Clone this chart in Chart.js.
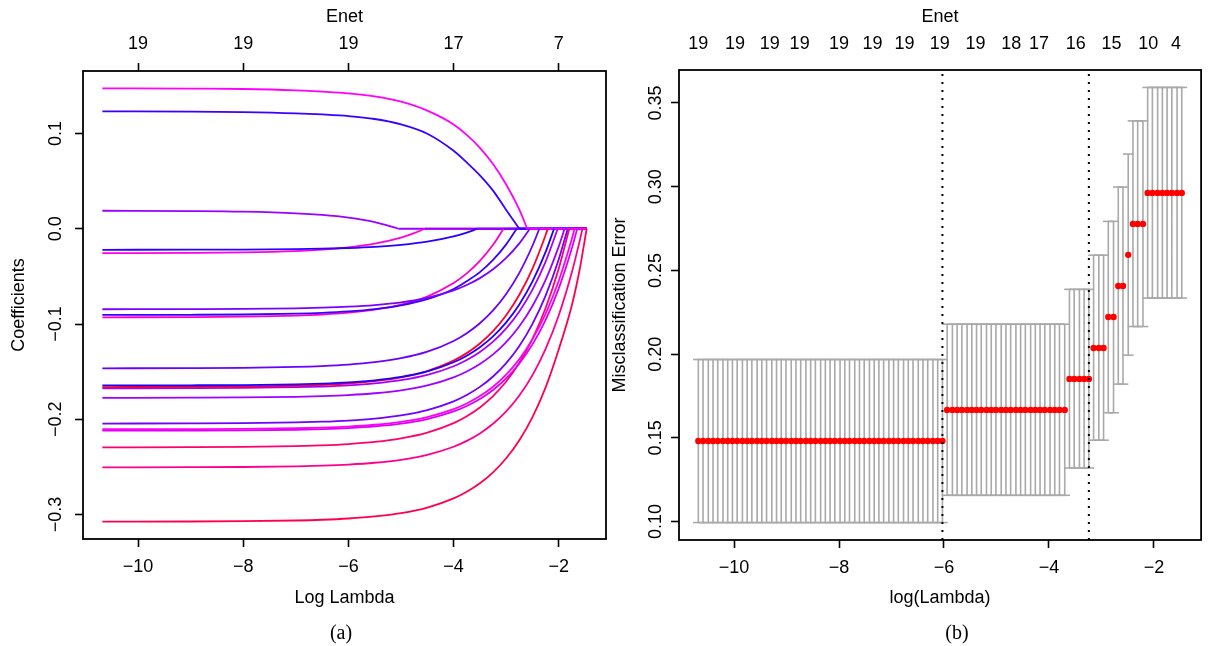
<!DOCTYPE html>
<html>
<head>
<meta charset="utf-8">
<script src="https://cdn.jsdelivr.net/npm/chart.js@4.4.1/dist/chart.umd.min.js"></script>
<style>
html,body{margin:0;padding:0;background:#fff;width:1208px;height:646px;overflow:hidden;}
canvas{position:absolute;left:0;top:0;}
.cap{position:absolute;font-family:'Liberation Serif','Times New Roman',serif;font-size:20px;color:#000;transform:translate(-50%,-50%);white-space:nowrap;}
</style>
</head>
<body>
<canvas id="ca" width="1208" height="646"></canvas>
<canvas id="cb" width="1208" height="646"></canvas>
<div class="cap" style="left:341px;top:632px;">(a)</div>
<div class="cap" style="left:957px;top:632px;">(b)</div>
<script>
// ---------------- Panel (a): coefficient paths ----------------
const xTickValsA = [-10, -8, -6, -4, -2];
const xTickLabelsA = ['\u221210', '\u22128', '\u22126', '\u22124', '\u22122'];
const dfLabelsA = ['19', '19', '19', '17', '7'];
const yTickValsA = [-0.3, -0.2, -0.1, 0.0, 0.1];
const yTickLabelsA = ['\u22120.3', '\u22120.2', '\u22120.1', '0.0', '0.1'];
const logLambdaMaxA = -1.47;

// each path: [logLambda, coefficient]
const coef01 = [[-10.68,0.1474],[-9,0.1471],[-8,0.1467],[-7,0.1453],[-6.5,0.1440],[-6,0.1422],[-5.5,0.1389],[-5,0.1334],[-4.5,0.1240],[-4,0.1095],[-3.75,0.0985],[-3.5,0.0850],[-3.25,0.0680],[-3,0.0465],[-2.75,0.0200],[-2.6,0]];
const coef02 = [[-10.68,0.1232],[-9,0.1230],[-8,0.1225],[-7,0.1212],[-6.5,0.1200],[-6,0.1183],[-5.5,0.1152],[-5,0.1096],[-4.5,0.0998],[-4,0.0819],[-3.75,0.0696],[-3.5,0.0561],[-3.25,0.0400],[-3,0.0197],[-2.75,0]];
const coef03 = [[-10.68,0.0189],[-9,0.01854],[-8,0.01791],[-7,0.01621],[-6.5,0.01447],[-6,0.01159],[-5.5,0.00685],[-5.05,0]];
const coef04 = [[-10.68,-0.0221],[-9,-0.0220],[-8,-0.02184],[-7,-0.0214],[-6.5,-0.02094],[-6,-0.02019],[-5.5,-0.01896],[-5,-0.01692],[-4.5,-0.01355],[-4,-0.00801],[-3.75,-0.00401],[-3.55,0]];
const coef05 = [[-10.68,-0.0256],[-9,-0.0253],[-8,-0.02479],[-7,-0.02339],[-6.5,-0.02196],[-6,-0.01959],[-5.5,-0.0157],[-5,-0.00928],[-4.75,-0.00464],[-4.55,0]];
const coef06 = [[-10.68,-0.0845],[-9,-0.08436],[-8,-0.08414],[-7,-0.08351],[-6.5,-0.08287],[-6,-0.08182],[-5.5,-0.08008],[-5,-0.07721],[-4.5,-0.07248],[-4,-0.06468],[-3.75,-0.05905],[-3.5,-0.05182],[-3.25,-0.04254],[-3,-0.03062],[-2.75,-0.01532],[-2.55,0]];
const coef07 = [[-10.68,-0.0905],[-9,-0.09032],[-8,-0.0900],[-7,-0.08914],[-6.5,-0.08826],[-6,-0.08681],[-5.5,-0.08442],[-5,-0.08047],[-4.5,-0.07397],[-4,-0.06324],[-3.75,-0.0550],[-3.5,-0.04556],[-3.25,-0.0328],[-3,-0.01641],[-2.8,0]];
const coef08 = [[-10.68,-0.0930],[-9,-0.09276],[-8,-0.09234],[-7,-0.09121],[-6.5,-0.09005],[-6,-0.08814],[-5.5,-0.08497],[-5,-0.07977],[-4.5,-0.07118],[-4,-0.05704],[-3.75,-0.04682],[-3.5,-0.0337],[-3.25,-0.01686],[-3.05,0]];
const coef09 = [[-10.68,-0.1465],[-9,-0.14631],[-8,-0.14597],[-7,-0.14507],[-6.5,-0.14414],[-6,-0.14262],[-5.5,-0.1401],[-5,-0.13594],[-4.5,-0.1291],[-4,-0.1178],[-3.75,-0.10964],[-3.5,-0.09918],[-3.25,-0.08573],[-3,-0.06847],[-2.75,-0.04631],[-2.5,-0.01786],[-2.37,0]];
const coef10 = [[-10.68,-0.1645],[-9,-0.16434],[-8,-0.16406],[-7,-0.16328],[-6.5,-0.16249],[-6,-0.16121],[-5.5,-0.15907],[-5,-0.15553],[-4.5,-0.14973],[-4,-0.14015],[-3.75,-0.13323],[-3.5,-0.12435],[-3.25,-0.11293],[-3,-0.09829],[-2.75,-0.07949],[-2.5,-0.05532],[-2.25,-0.02433],[-2.09,0]];
const coef11 = [[-10.68,-0.1662],[-9,-0.16602],[-8,-0.16568],[-7,-0.16482],[-6.5,-0.16392],[-6,-0.16244],[-5.5,-0.1600],[-5,-0.1560],[-4.5,-0.14936],[-4,-0.13844],[-3.75,-0.13057],[-3.5,-0.12045],[-3.25,-0.10745],[-3,-0.09078],[-2.75,-0.06936],[-2.5,-0.04183],[-2.25,-0.00652],[-2.21,0]];
const coef12 = [[-10.68,-0.1675],[-9,-0.16735],[-8,-0.16708],[-7,-0.16634],[-6.5,-0.16561],[-6,-0.16437],[-5.5,-0.16234],[-5,-0.15899],[-4.5,-0.15348],[-4,-0.14439],[-3.75,-0.1378],[-3.5,-0.12938],[-3.25,-0.11854],[-3,-0.10464],[-2.75,-0.08678],[-2.5,-0.06385],[-2.25,-0.03442],[-2.02,0]];
const coef13 = [[-10.68,-0.1775],[-9,-0.17736],[-8,-0.17711],[-7,-0.17643],[-6.5,-0.17573],[-6,-0.17459],[-5.5,-0.17269],[-5,-0.16958],[-4.5,-0.16445],[-4,-0.15599],[-3.75,-0.14986],[-3.5,-0.14202],[-3.25,-0.13194],[-3,-0.11899],[-2.75,-0.10238],[-2.5,-0.08105],[-2.25,-0.05365],[-2,-0.0185],[-1.89,0]];
const coef14 = [[-10.68,-0.2045],[-9,-0.20434],[-8,-0.20407],[-7,-0.20333],[-6.5,-0.20258],[-6,-0.20133],[-5.5,-0.19929],[-5,-0.19591],[-4.5,-0.19033],[-4,-0.18115],[-3.75,-0.17452],[-3.5,-0.16601],[-3.25,-0.15507],[-3,-0.14102],[-2.75,-0.12301],[-2.5,-0.09985],[-2.25,-0.07014],[-2,-0.03196],[-1.83,0]];
const coef15 = [[-10.68,-0.2105],[-9,-0.21035],[-8,-0.21012],[-7,-0.20945],[-6.5,-0.20877],[-6,-0.20764],[-5.5,-0.20578],[-5,-0.20273],[-4.5,-0.1977],[-4,-0.18939],[-3.75,-0.18341],[-3.5,-0.1757],[-3.25,-0.16583],[-3,-0.15314],[-2.75,-0.13685],[-2.5,-0.11592],[-2.25,-0.08906],[-2,-0.05456],[-1.75,-0.01027],[-1.7,0]];
const coef16 = [[-10.68,-0.2120],[-9,-0.21187],[-8,-0.21164],[-7,-0.211],[-6.5,-0.21035],[-6,-0.20927],[-5.5,-0.20748],[-5,-0.20456],[-4.5,-0.19975],[-4,-0.19178],[-3.75,-0.18603],[-3.5,-0.17867],[-3.25,-0.1692],[-3,-0.15705],[-2.75,-0.14143],[-2.5,-0.12139],[-2.25,-0.09565],[-2,-0.0626],[-1.75,-0.02018],[-1.65,0]];
const coef17 = [[-10.68,-0.2295],[-9,-0.22934],[-8,-0.22904],[-7,-0.22824],[-6.5,-0.22741],[-6,-0.22606],[-5.5,-0.22383],[-5,-0.22014],[-4.5,-0.21408],[-4,-0.20407],[-3.75,-0.19684],[-3.5,-0.18757],[-3.25,-0.17566],[-3,-0.16037],[-2.75,-0.14075],[-2.5,-0.11553],[-2.25,-0.08317],[-2,-0.04161],[-1.8,0]];
const coef18 = [[-10.68,-0.2505],[-9,-0.25035],[-8,-0.2501],[-7,-0.24942],[-6.5,-0.24872],[-6,-0.24757],[-5.5,-0.24567],[-5,-0.24256],[-4.5,-0.2374],[-4,-0.22888],[-3.75,-0.22274],[-3.5,-0.21485],[-3.25,-0.20473],[-3,-0.19173],[-2.75,-0.17505],[-2.5,-0.15363],[-2.25,-0.1261],[-2,-0.09078],[-1.75,-0.04542],[-1.6,-0.01222],[-1.55,0]];
const coef19 = [[-10.68,-0.3075],[-9,-0.30735],[-8,-0.30704],[-7,-0.30628],[-6.5,-0.3055],[-6,-0.30418],[-5.5,-0.30203],[-5,-0.29849],[-4.5,-0.29265],[-4,-0.283],[-3.75,-0.27604],[-3.5,-0.26713],[-3.25,-0.25566],[-3,-0.24093],[-2.75,-0.22202],[-2.5,-0.19772],[-2.25,-0.16654],[-2,-0.12651],[-1.75,-0.0800],[-1.6,-0.0420],[-1.47,0]];
const coefColors = ['#FF00FF','#3A00FF','#9A00FF','#2A00FF','#FF00E0','#7A00FF','#3A00FF','#FF00C8','#6A00FF','#1E00FF',
                    '#FF0030','#A600FF','#A000FF','#7000FF','#FF00F0','#D800FF','#FF0070','#FF008C','#FF0050'];

// ---------------- Panel (b): cross-validated misclassification ----------------
const logLambda = [-10.68,-10.59,-10.49,-10.40,-10.31,-10.21,-10.12,-10.03,-9.94,-9.84,
  -9.75,-9.66,-9.56,-9.47,-9.38,-9.28,-9.19,-9.10,-9.01,-8.91,
  -8.82,-8.73,-8.63,-8.54,-8.45,-8.35,-8.26,-8.17,-8.08,-7.98,
  -7.89,-7.80,-7.70,-7.61,-7.52,-7.42,-7.33,-7.24,-7.15,-7.05,
  -6.96,-6.87,-6.77,-6.68,-6.59,-6.49,-6.40,-6.31,-6.21,-6.12,
  -6.03,-5.94,-5.84,-5.75,-5.66,-5.56,-5.47,-5.38,-5.29,-5.19,
  -5.10,-5.01,-4.91,-4.82,-4.73,-4.63,-4.54,-4.45,-4.35,-4.26,
  -4.17,-4.08,-3.98,-3.89,-3.80,-3.70,-3.61,-3.52,-3.42,-3.33,
  -3.24,-3.15,-3.05,-2.96,-2.87,-2.77,-2.68,-2.59,-2.49,-2.40,
  -2.31,-2.21,-2.12,-2.03,-1.93,-1.84,-1.75,-1.66,-1.56,-1.47];
const cvm = [0.1481,0.1481,0.1481,0.1481,0.1481,0.1481,0.1481,0.1481,0.1481,0.1481,
  0.1481,0.1481,0.1481,0.1481,0.1481,0.1481,0.1481,0.1481,0.1481,0.1481,
  0.1481,0.1481,0.1481,0.1481,0.1481,0.1481,0.1481,0.1481,0.1481,0.1481,
  0.1481,0.1481,0.1481,0.1481,0.1481,0.1481,0.1481,0.1481,0.1481,0.1481,
  0.1481,0.1481,0.1481,0.1481,0.1481,0.1481,0.1481,0.1481,0.1481,0.1481,
  0.1481,0.1667,0.1667,0.1667,0.1667,0.1667,0.1667,0.1667,0.1667,0.1667,
  0.1667,0.1667,0.1667,0.1667,0.1667,0.1667,0.1667,0.1667,0.1667,0.1667,
  0.1667,0.1667,0.1667,0.1667,0.1667,0.1667,0.1852,0.1852,0.1852,0.1852,
  0.1852,0.2037,0.2037,0.2037,0.2222,0.2222,0.2407,0.2407,0.2593,0.2778,
  0.2778,0.2778,0.2963,0.2963,0.2963,0.2963,0.2963,0.2963,0.2963,0.2963];
const cvup = [0.1968,0.1968,0.1968,0.1968,0.1968,0.1968,0.1968,0.1968,0.1968,0.1968,
  0.1968,0.1968,0.1968,0.1968,0.1968,0.1968,0.1968,0.1968,0.1968,0.1968,
  0.1968,0.1968,0.1968,0.1968,0.1968,0.1968,0.1968,0.1968,0.1968,0.1968,
  0.1968,0.1968,0.1968,0.1968,0.1968,0.1968,0.1968,0.1968,0.1968,0.1968,
  0.1968,0.1968,0.1968,0.1968,0.1968,0.1968,0.1968,0.1968,0.1968,0.1968,
  0.1968,0.2179,0.2179,0.2179,0.2179,0.2179,0.2179,0.2179,0.2179,0.2179,
  0.2179,0.2179,0.2179,0.2179,0.2179,0.2179,0.2179,0.2179,0.2179,0.2179,
  0.2179,0.2179,0.2179,0.2179,0.2179,0.2179,0.2387,0.2387,0.2387,0.2387,
  0.2387,0.2591,0.2591,0.2591,0.2793,0.2793,0.2998,0.2998,0.3195,0.3393,
  0.3393,0.3393,0.3593,0.3593,0.3593,0.3593,0.3593,0.3593,0.3593,0.3593];
const cvlo = [0.0994,0.0994,0.0994,0.0994,0.0994,0.0994,0.0994,0.0994,0.0994,0.0994,
  0.0994,0.0994,0.0994,0.0994,0.0994,0.0994,0.0994,0.0994,0.0994,0.0994,
  0.0994,0.0994,0.0994,0.0994,0.0994,0.0994,0.0994,0.0994,0.0994,0.0994,
  0.0994,0.0994,0.0994,0.0994,0.0994,0.0994,0.0994,0.0994,0.0994,0.0994,
  0.0994,0.0994,0.0994,0.0994,0.0994,0.0994,0.0994,0.0994,0.0994,0.0994,
  0.0994,0.1157,0.1157,0.1157,0.1157,0.1157,0.1157,0.1157,0.1157,0.1157,
  0.1157,0.1157,0.1157,0.1157,0.1157,0.1157,0.1157,0.1157,0.1157,0.1157,
  0.1157,0.1157,0.1157,0.1157,0.1157,0.1157,0.1320,0.1320,0.1320,0.1320,
  0.1320,0.1486,0.1486,0.1486,0.1650,0.1650,0.1821,0.1821,0.1994,0.2165,
  0.2165,0.2165,0.2335,0.2335,0.2335,0.2335,0.2335,0.2335,0.2335,0.2335];
const lambdaMinIdx = 50;
const lambda1seIdx = 80;
const xTickValsB = [-10, -8, -6, -4, -2];
const xTickLabelsB = ['\u221210', '\u22128', '\u22126', '\u22124', '\u22122'];
const yTickValsB = [0.10, 0.15, 0.20, 0.25, 0.30, 0.35];
const yTickLabelsB = ['0.10', '0.15', '0.20', '0.25', '0.30', '0.35'];
const topPosB = [-10.68, -9.98, -9.32, -8.75, -8.00, -7.36, -6.75, -6.08, -5.40, -4.72, -4.19, -3.49, -2.81, -2.11, -1.58];
const topLabelsB = ['19','19','19','19','19','19','19','19','19','18','17','16','15','10','4'];

// ---------------- shared drawing setup ----------------
const FONT = "'Liberation Sans', Arial, Helvetica, sans-serif";
const F18 = {family: FONT, size: 18};
const BLACK = '#000';
const GREY = '#A9A9A9';

function fixedTicks(vals) { return s => { s.ticks = vals.map(v => ({value: v})); }; }

function boxAndYLabels(yVals, yLabels, labelX) {
  return {
    id: 'boxY',
    afterDraw(chart) {
      const {ctx, chartArea: a} = chart;
      const ys = chart.scales.y;
      ctx.save();
      ctx.strokeStyle = BLACK; ctx.lineWidth = 1.8;
      ctx.strokeRect(a.left, a.top, a.right - a.left, a.bottom - a.top);
      ctx.fillStyle = BLACK;
      ctx.font = '18px ' + FONT;
      ctx.textAlign = 'center'; ctx.textBaseline = 'middle';
      yVals.forEach((v, i) => {
        const py = ys.getPixelForValue(v);
        ctx.save(); ctx.translate(labelX, py); ctx.rotate(-Math.PI / 2);
        ctx.fillText(yLabels[i], 0, 1);
        ctx.restore();
      });
      ctx.restore();
    }
  };
}

function tickGrid(len) {
  return {display: true, drawOnChartArea: false, drawTicks: len > 0, tickLength: len, tickColor: BLACK, tickWidth: 1.6};
}

// ---------------- chart (a) ----------------
const coefPaths = [coef01,coef02,coef03,coef04,coef05,coef06,coef07,coef08,coef09,coef10,
                   coef11,coef12,coef13,coef14,coef15,coef16,coef17,coef18,coef19];
const dsA = coefPaths.map((p, k) => ({
  data: p.map(([x, y]) => ({x, y})),
  borderColor: coefColors[k], borderWidth: 1.8, pointRadius: 0,
  cubicInterpolationMode: 'monotone', showLine: true, fill: false
}));
// zero tails after each coefficient leaves the model
coefPaths.forEach((p, k) => {
  const last = p[p.length - 1];
  dsA.push({data: [{x: last[0], y: 0}, {x: logLambdaMaxA, y: 0}], borderColor: coefColors[k],
            borderWidth: 1.8, pointRadius: 0, showLine: true, fill: false});
});

new Chart(document.getElementById('ca'), {
  type: 'scatter',
  data: {datasets: dsA},
  options: {
    responsive: false, animation: false, events: [],
    layout: {padding: {left: 0, right: 602, top: 0, bottom: 0}},
    plugins: {legend: {display: false}, tooltip: {enabled: false}},
    scales: {
      x: {
        type: 'linear', position: 'bottom', min: -11.048, max: -1.102,
        afterBuildTicks: fixedTicks(xTickValsA), afterFit: s => { s.height = 107; },
        ticks: {callback: (v, i) => xTickLabelsA[i], font: F18, color: BLACK, padding: 9, maxRotation: 0, autoSkip: false},
        grid: tickGrid(8), border: {display: false},
        title: {display: true, text: 'Log Lambda', font: F18, color: BLACK, padding: {top: 0, bottom: 37}}
      },
      xTop: {
        type: 'linear', position: 'top', min: -11.048, max: -1.102,
        afterBuildTicks: fixedTicks(xTickValsA), afterFit: s => { s.height = 71; },
        ticks: {callback: (v, i) => dfLabelsA[i], font: F18, color: BLACK, padding: 8, maxRotation: 0, autoSkip: false},
        grid: tickGrid(8), border: {display: false},
        title: {display: true, text: 'Enet', font: F18, color: BLACK, padding: {top: 6, bottom: 0}}
      },
      y: {
        type: 'linear', position: 'left', min: -0.3257, max: 0.1656,
        afterBuildTicks: fixedTicks(yTickValsA), afterFit: s => { s.width = 83; },
        ticks: {display: false},
        grid: tickGrid(8), border: {display: false},
        title: {display: true, text: 'Coefficients', font: F18, color: BLACK, padding: {top: 8, bottom: 0}}
      }
    }
  },
  plugins: [boxAndYLabels(yTickValsA, yTickLabelsA, 55)]
});

// ---------------- chart (b) ----------------
const barData = [];
logLambda.forEach((x, i) => { barData.push({x, y: cvlo[i]}, {x, y: cvup[i]}, {x, y: null}); });
const yMinB = 0.0890, yMaxB = 0.3697;
const dsB = [
  {data: barData, showLine: true, spanGaps: false, borderColor: GREY, borderWidth: 1.6, pointRadius: 0},
  {data: logLambda.map((x, i) => ({x, y: cvup[i]})), showLine: false, pointStyle: 'line', pointRadius: 5.3,
   borderColor: GREY, pointBorderWidth: 1.6, borderWidth: 1.6},
  {data: logLambda.map((x, i) => ({x, y: cvlo[i]})), showLine: false, pointStyle: 'line', pointRadius: 5.3,
   borderColor: GREY, pointBorderWidth: 1.6, borderWidth: 1.6},
  {data: logLambda.map((x, i) => ({x, y: cvm[i]})), showLine: false, pointStyle: 'circle', pointRadius: 3.2,
   backgroundColor: '#FF0000', borderColor: '#FF0000', borderWidth: 0},
  {data: [{x: logLambda[lambdaMinIdx], y: yMinB}, {x: logLambda[lambdaMinIdx], y: yMaxB}], showLine: true,
   borderColor: BLACK, borderWidth: 2, borderDash: [2, 6], pointRadius: 0},
  {data: [{x: logLambda[lambda1seIdx], y: yMinB}, {x: logLambda[lambda1seIdx], y: yMaxB}], showLine: true,
   borderColor: BLACK, borderWidth: 2, borderDash: [2, 6], pointRadius: 0}
];
dsB.forEach((d, i) => { d.order = dsB.length - i; });

new Chart(document.getElementById('cb'), {
  type: 'scatter',
  data: {datasets: dsB},
  options: {
    responsive: false, animation: false, events: [],
    layout: {padding: {left: 600, right: 2, top: 0, bottom: 0}},
    plugins: {legend: {display: false}, tooltip: {enabled: false}},
    scales: {
      x: {
        type: 'linear', position: 'bottom', min: -11.048, max: -1.102,
        afterBuildTicks: fixedTicks(xTickValsB), afterFit: s => { s.height = 106; },
        ticks: {callback: (v, i) => xTickLabelsB[i], font: F18, color: BLACK, padding: 9, maxRotation: 0, autoSkip: false},
        grid: tickGrid(8), border: {display: false},
        title: {display: true, text: 'log(Lambda)', font: F18, color: BLACK, padding: {top: 0, bottom: 37}}
      },
      xTop: {
        type: 'linear', position: 'top', min: -11.048, max: -1.102,
        afterBuildTicks: fixedTicks(topPosB), afterFit: s => { s.height = 70; },
        ticks: {callback: (v, i) => topLabelsB[i], font: F18, color: BLACK, padding: 15, maxRotation: 0, autoSkip: false},
        grid: {display: false, drawTicks: false}, border: {display: false},
        title: {display: true, text: 'Enet', font: F18, color: BLACK, padding: {top: 6, bottom: 0}}
      },
      y: {
        type: 'linear', position: 'left', min: yMinB, max: yMaxB,
        afterBuildTicks: fixedTicks(yTickValsB), afterFit: s => { s.width = 79; },
        ticks: {display: false},
        grid: tickGrid(8), border: {display: false},
        title: {display: true, text: 'Misclassification Error', font: F18, color: BLACK, padding: {top: 9, bottom: 0}}
      }
    }
  },
  plugins: [boxAndYLabels(yTickValsB, yTickLabelsB, 655)]
});
</script>
</body>
</html>
